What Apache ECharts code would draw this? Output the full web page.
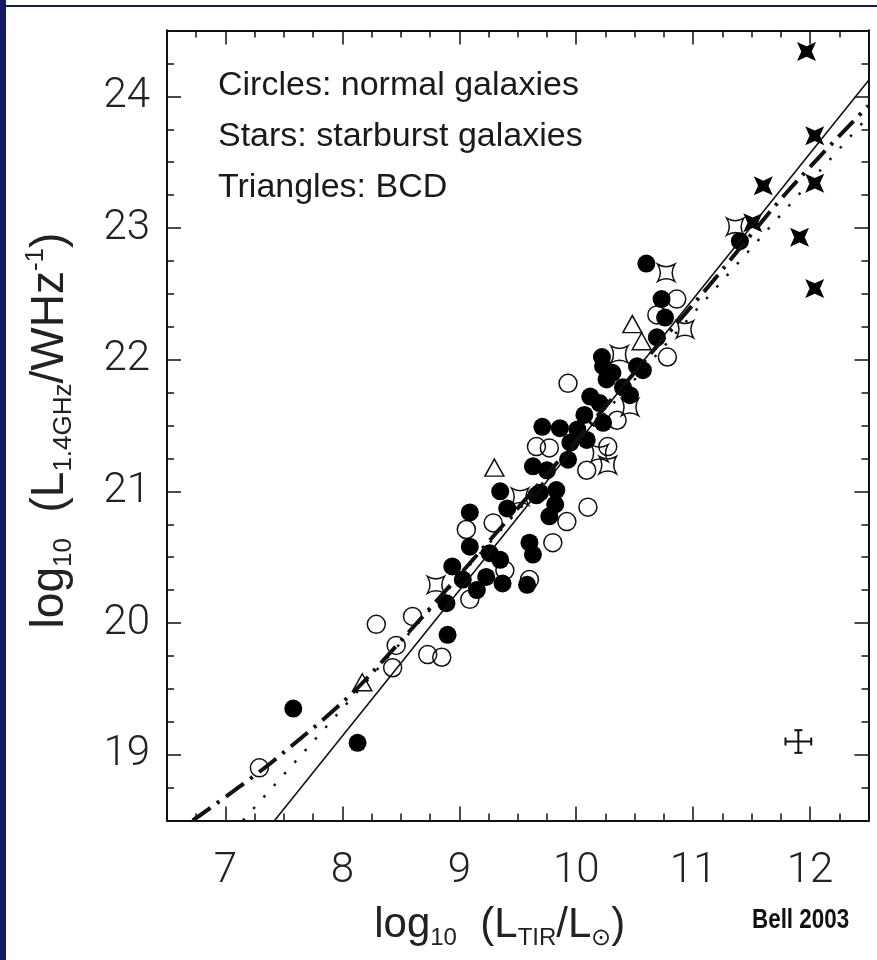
<!DOCTYPE html>
<html>
<head>
<meta charset="utf-8">
<script src="https://cdn.jsdelivr.net/npm/echarts@6/dist/echarts.min.js"></script>
<style>
  html, body { margin: 0; padding: 0; background: #fff; }
  #main { width: 877px; height: 960px; }
</style>
</head>
<body>
<div id="main"></div>
<script>
// axis ranges and tick labels
const xRange = [6.5, 12.5]
const yRange = [18.5, 24.5]
const xTicks = [7, 8, 9, 10, 11, 12]
const yTicks = [19, 20, 21, 22, 23, 24]

// normal galaxies, filled circles
const filledCircleX = [7.58, 8.13, 8.89, 8.90, 8.94, 9.35, 9.09, 9.41, 9.66, 9.83, 9.77, 9.60, 9.63, 9.09, 9.03, 9.26, 9.35, 9.23, 9.37, 9.58, 9.15, 9.82, 10.12, 10.26, 10.23, 10.52, 9.71, 9.86, 9.95, 10.09, 10.23, 9.93, 9.63, 9.75, 9.69, 10.60, 10.73, 10.76, 10.69, 10.22, 10.31, 10.57, 10.40, 11.40, 10.20, 10.46, 10.07, 10.01]
const filledCircleY = [19.35, 19.09, 20.15, 19.91, 20.43, 21.00, 20.84, 20.87, 20.97, 21.01, 20.81, 20.61, 20.52, 20.58, 20.33, 20.53, 20.48, 20.35, 20.30, 20.29, 20.25, 20.90, 21.72, 21.85, 21.95, 21.95, 21.49, 21.48, 21.37, 21.39, 21.52, 21.24, 21.19, 21.16, 20.99, 22.73, 22.46, 22.32, 22.17, 22.02, 21.90, 21.92, 21.79, 22.90, 21.67, 21.73, 21.58, 21.47]

// normal galaxies, open circles
const openCircleX = [7.29, 8.29, 8.60, 8.46, 8.43, 8.73, 8.85, 9.06, 9.29, 9.80, 9.39, 9.09, 9.60, 9.93, 9.66, 9.77, 10.10, 9.92, 10.09, 10.27, 10.35, 10.86, 10.69, 10.78]
const openCircleY = [18.90, 19.99, 20.05, 19.83, 19.66, 19.76, 19.74, 20.71, 20.76, 20.61, 20.40, 20.18, 20.33, 21.82, 21.34, 21.33, 20.88, 20.77, 21.16, 21.34, 21.54, 22.46, 22.34, 22.02]

// starbursts, open stars
const openStarX = [8.80, 9.52, 10.20, 10.46, 10.37, 10.77, 10.93, 11.36, 10.27]
const openStarY = [20.29, 20.96, 21.29, 21.64, 22.04, 22.66, 22.23, 23.01, 21.20]

// starbursts, filled stars
const filledStarX = [11.97, 12.04, 11.60, 12.04, 11.91, 12.04, 11.51]
const filledStarY = [24.34, 23.70, 23.32, 23.34, 22.93, 22.54, 23.04]

// BCDs, open triangles
const triangleX = [8.17, 9.30, 10.48, 10.56]
const triangleY = [19.55, 21.18, 22.27, 22.14]

// fitted relations
const solidX = [7.42, 12.5]
const solidY = [18.5, 24.12]
const dashedX = [6.72, 7.42, 8.22, 11.02, 11.80, 12.5]
const dashedY = [18.50, 18.96, 19.59, 22.44, 23.27, 23.93]
const dottedX = [7.15, 12.5]
const dottedY = [18.5, 23.85]

// typical error: x, y, half-width in x, half-height in y
const errorBar = [11.90, 19.10, 0.11, 0.086]

const zip = (xs, ys) => xs.map((x, i) => [x, ys[i]])

const ink = '#111'
const frame = { show: true, lineStyle: { color: ink, width: 2 } }
const tickStyle = { color: ink, width: 1.5 }
const openStarPath = 'path://M0,0 Q10,6 20,0 Q14,10 20,20 Q10,14 0,20 Q6,10 0,0 Z'
const filledStarPath = 'path://M0,0 L10,4.5 L20,0 L15.5,10 L20,20 L10,15.5 L0,20 L4.5,10 Z'

const titleRich = {
  t: { fontSize: 46, fontFamily: 'Liberation Sans', color: '#222', lineHeight: 54 },
  s: { fontSize: 26, fontFamily: 'Liberation Sans', color: '#222', verticalAlign: 'bottom', lineHeight: 26 },
  p: { fontSize: 26, fontFamily: 'Liberation Sans', color: '#222', verticalAlign: 'top', lineHeight: 26 }
}
const xTitleRich = {
  t: { fontSize: 42, fontFamily: 'Liberation Sans', color: '#222', lineHeight: 50 },
  s: { fontSize: 24, fontFamily: 'Liberation Sans', color: '#222', verticalAlign: 'bottom', lineHeight: 24 }
}

function minorAxis(position, range) {
  return {
    type: 'value', position, min: range[0], max: range[1], interval: 0.25,
    axisLine: frame,
    splitLine: { show: false },
    axisTick: { show: true, inside: true, length: 7, lineStyle: tickStyle },
    axisLabel: { show: false }
  }
}

function majorAxis(position, range, ticks, withLabels) {
  return {
    type: 'value', position, min: range[0], max: range[1], interval: 0.25,
    axisLine: frame,
    splitLine: { show: false },
    axisTick: { show: true, inside: true, length: 14, customValues: ticks, lineStyle: tickStyle },
    axisLabel: withLabels
      ? { show: true, customValues: ticks, fontSize: 42, fontFamily: 'Roboto', fontWeight: 300, color: '#222' }
      : { show: false }
  }
}

const xBottom = majorAxis('bottom', xRange, xTicks, true)
xBottom.axisLabel.margin = 30
xBottom.name = '{t|log}{s|10}{t|  (L}{s|TIR}{t|/L}{s|⊙}{t|)}'
xBottom.nameLocation = 'middle'
xBottom.nameGap = 80
xBottom.nameTextStyle = { rich: xTitleRich, padding: [0, 36, 0, 0] }

const yLeft = majorAxis('left', yRange, yTicks, true)
yLeft.axisLabel.margin = 17
yLeft.name = '{t|log}{s|10}{t|  (L}{s|1.4GHz}{t|/WHz}{p|-1}{t|)}'
yLeft.nameLocation = 'middle'
yLeft.nameRotate = 90
yLeft.nameGap = 90
yLeft.nameTextStyle = { rich: titleRich, padding: [0, 10, 0, 0] }

const openStyle = { color: 'rgba(255,255,255,0)', borderColor: ink, borderWidth: 1.5, opacity: 1 }
const labelFont = { fontSize: 34, fontFamily: 'Liberation Sans', fill: '#1a1a1a', verticalAlign: 'middle' }

const chart = echarts.init(document.getElementById('main'))
chart.setOption({
  animation: false,
  backgroundColor: '#fff',
  grid: { left: 167, right: 8.5, top: 30.5, bottom: 139.5 },
  xAxis: [
    minorAxis('bottom', xRange),
    xBottom,
    minorAxis('top', xRange),
    majorAxis('top', xRange, xTicks, false)
  ],
  yAxis: [
    minorAxis('left', yRange),
    yLeft,
    minorAxis('right', yRange),
    majorAxis('right', yRange, yTicks, false)
  ],
  graphic: [
    { type: 'rect', shape: { x: 0, y: 0, width: 6, height: 960 }, style: { fill: '#141b5e' } },
    { type: 'rect', shape: { x: 0, y: 5, width: 877, height: 2 }, style: { fill: '#141b5e' } },
    { type: 'text', x: 218, y: 86, style: Object.assign({ text: 'Circles: normal galaxies' }, labelFont) },
    { type: 'text', x: 218, y: 137, style: Object.assign({ text: 'Stars: starburst galaxies' }, labelFont) },
    { type: 'text', x: 218, y: 188, style: Object.assign({ text: 'Triangles: BCD' }, labelFont) },
    { type: 'text', x: 752, y: 920, scaleX: 0.8, style: { text: 'Bell 2003', fontSize: 28, fontWeight: 'bold', fontFamily: 'Liberation Sans', fill: '#111', verticalAlign: 'middle' } }
  ],
  series: [
    {
      name: 'open circles', type: 'scatter', data: zip(openCircleX, openCircleY),
      symbol: 'circle', symbolSize: 18, itemStyle: openStyle
    },
    {
      name: 'open stars', type: 'scatter', data: zip(openStarX, openStarY),
      symbol: openStarPath, symbolSize: 17, itemStyle: openStyle
    },
    {
      name: 'triangles', type: 'scatter', data: zip(triangleX, triangleY),
      symbol: 'triangle', symbolSize: [19, 17], itemStyle: openStyle
    },
    {
      name: 'filled circles', type: 'scatter', data: zip(filledCircleX, filledCircleY),
      symbol: 'circle', symbolSize: 18, itemStyle: { color: '#000', opacity: 1 }
    },
    {
      name: 'filled stars', type: 'scatter', data: zip(filledStarX, filledStarY),
      symbol: filledStarPath, symbolSize: 19, itemStyle: { color: '#000', opacity: 1 }
    },
    {
      name: 'solid fit', type: 'line', data: zip(solidX, solidY), showSymbol: false,
      lineStyle: { color: ink, width: 1.6 }, z: 5
    },
    {
      name: 'dashed fit', type: 'line', data: zip(dashedX, dashedY), showSymbol: false, smooth: 0.3,
      lineStyle: { color: ink, width: 4, type: [22, 8, 3, 8] }, z: 5
    },
    {
      name: 'dotted fit', type: 'line', data: zip(dottedX, dottedY), showSymbol: false,
      lineStyle: { color: ink, width: 2.5, type: [2.5, 13] }, z: 5
    },
    {
      name: 'error', type: 'custom', data: [errorBar], z: 5,
      renderItem: (params, api) => {
        const x = api.value(0), y = api.value(1), dx = api.value(2), dy = api.value(3)
        const l = api.coord([x - dx, y]), r = api.coord([x + dx, y])
        const t = api.coord([x, y + dy]), b = api.coord([x, y - dy])
        const cap = 4
        const style = { stroke: ink, lineWidth: 2 }
        return {
          type: 'group',
          children: [
            { type: 'line', shape: { x1: l[0], y1: l[1], x2: r[0], y2: r[1] }, style },
            { type: 'line', shape: { x1: t[0], y1: t[1], x2: b[0], y2: b[1] }, style },
            { type: 'line', shape: { x1: l[0], y1: l[1] - cap, x2: l[0], y2: l[1] + cap }, style },
            { type: 'line', shape: { x1: r[0], y1: r[1] - cap, x2: r[0], y2: r[1] + cap }, style },
            { type: 'line', shape: { x1: t[0] - cap, y1: t[1], x2: t[0] + cap, y2: t[1] }, style },
            { type: 'line', shape: { x1: b[0] - cap, y1: b[1], x2: b[0] + cap, y2: b[1] }, style }
          ]
        }
      }
    }
  ]
})
</script>
</body>
</html>
